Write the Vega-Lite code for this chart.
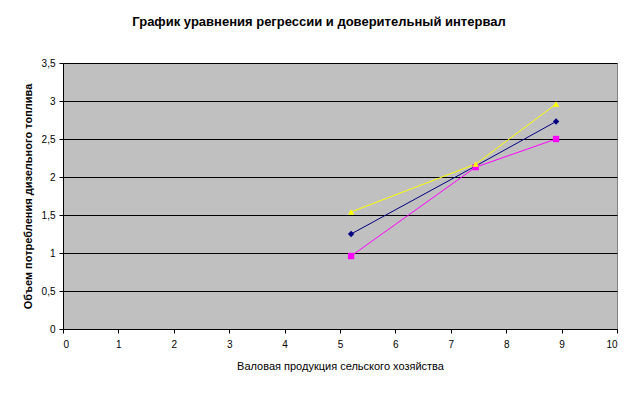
{
  "$schema": "https://vega.github.io/schema/vega-lite/v6.json",
  "autosize": {"type": "none"},
  "padding": {"left": 63, "top": 63, "right": 24, "bottom": 65},
  "width": 554,
  "height": 266,
  "background": "white",
  "title": {
    "text": "График уравнения регрессии и доверительный интервал",
    "font": "Liberation Sans",
    "fontSize": 13,
    "fontWeight": "bold",
    "color": "black",
    "anchor": "middle",
    "dx": -21,
    "offset": 29
  },
  "config": {
    "view": {"fill": "#C0C0C0", "stroke": "#808080", "strokeWidth": 1},
    "axis": {
      "labelFont": "Liberation Sans",
      "labelFontSize": 10,
      "labelColor": "black",
      "titleFont": "Liberation Sans",
      "titleColor": "black",
      "domainColor": "black",
      "tickColor": "black",
      "tickSize": 4
    }
  },
  "data": {
    "values": [
      {"x": 5.2, "y": 1.25, "s": "Регрессия"},
      {"x": 7.45, "y": 2.145, "s": "Регрессия"},
      {"x": 8.9, "y": 2.73, "s": "Регрессия"},
      {"x": 5.2, "y": 0.96, "s": "Нижняя граница"},
      {"x": 7.45, "y": 2.13, "s": "Нижняя граница"},
      {"x": 8.9, "y": 2.5, "s": "Нижняя граница"},
      {"x": 5.2, "y": 1.54, "s": "Верхняя граница"},
      {"x": 7.45, "y": 2.17, "s": "Верхняя граница"},
      {"x": 8.9, "y": 2.96, "s": "Верхняя граница"}
    ]
  },
  "encoding": {
    "x": {
      "field": "x", "type": "quantitative",
      "scale": {"domain": [0, 10], "nice": false, "zero": true},
      "axis": {
        "values": [0,1,2,3,4,5,6,7,8,9,10],
        "grid": false,
        "title": "Валовая продукция сельского хозяйства",
        "titleFontSize": 11,
        "titleFontWeight": "normal",
        "titlePadding": 11,
        "labelPadding": 6
      }
    },
    "y": {
      "field": "y", "type": "quantitative",
      "scale": {"domain": [0, 3.5], "nice": false},
      "axis": {
        "values": [0,0.5,1,1.5,2,2.5,3,3.5],
        "grid": true,
        "gridColor": "black",
        "gridWidth": 1,
        "gridOpacity": 1,
        "labelExpr": "replace(toString(datum.value), '.', ',')",
        "title": "Объем потребления дизельного топлива",
        "titleFontSize": 11,
        "titleFontWeight": "bold",
        "titlePadding": 8,
        "labelPadding": 4
      }
    },
    "color": {
      "field": "s", "type": "nominal",
      "scale": {"domain": ["Регрессия", "Нижняя граница", "Верхняя граница"], "range": ["#000080", "#FF00FF", "#FFFF00"]},
      "legend": null
    }
  },
  "layer": [
    {"mark": {"type": "line", "strokeWidth": 1}},
    {
      "mark": {"type": "point", "filled": true, "opacity": 1, "size": 40},
      "encoding": {
        "shape": {
          "field": "s", "type": "nominal",
          "scale": {"domain": ["Регрессия", "Нижняя граница", "Верхняя граница"], "range": ["diamond", "square", "triangle-up"]},
          "legend": null
        }
      }
    }
  ]
}
